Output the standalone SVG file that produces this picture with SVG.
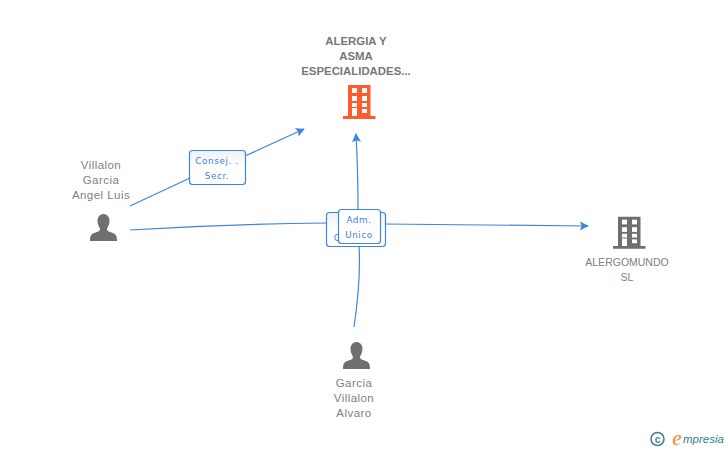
<svg xmlns="http://www.w3.org/2000/svg" width="728" height="450" viewBox="0 0 728 450">
<style>
text{font-family:"Liberation Sans",Arial,sans-serif;font-size:11.5px;fill:#808080;text-anchor:middle;letter-spacing:.45px}
.b{font-weight:bold;fill:#777;letter-spacing:0;font-size:11.4px}
.n{font-size:10.5px;letter-spacing:0}
.c{fill:none;stroke:#3d85e0;stroke-width:1.2}
.l{fill:#fff;stroke:#3d85e0;stroke-width:1.2}
.t{font-family:"DejaVu Sans",sans-serif;font-size:8.8px;fill:#3d7fd8;letter-spacing:.6px}
.w{fill:#fff}
</style>
<defs>
<marker id="a" viewBox="0 0 10 10" refX="9" refY="5" markerWidth="9" markerHeight="9" markerUnits="userSpaceOnUse" orient="auto"><path d="M0 0L10 5L0 10L2 5Z" fill="#3d85e0"/></marker>
<linearGradient id="g" x1="0" y1="0" x2="0" y2="1"><stop offset="0" stop-color="#f1f1f1"/><stop offset=".5" stop-color="#fff"/></linearGradient>
<g id="bld"><path d="M-11 -31H11.500V0H16.500V3H-16V0H-11Z"/><g class="w"><rect x="-7" y="-28" width="5" height="5"/><rect x="3" y="-28" width="5" height="5"/><rect x="-7" y="-20" width="5" height="5"/><rect x="3" y="-20" width="5" height="5"/><rect x="-7" y="-13" width="5" height="4"/><rect x="3" y="-13" width="5" height="4"/><rect x="-7" y="-8" width="5" height="8"/><rect x="3" y="-7" width="5" height="4"/></g></g>
<path id="p" d="M0 -14C-4.500 -14 -6 -10 -6 -7C-6 -3 -4 -1 -3.500 1C-3.500 3 -5 3.500 -8 4.500C-12 6 -13.500 7 -13.500 13H13.500C13.500 7 12 6 8 4.500C5 3.500 3.500 3 3.500 1C4 -1 6 -3 6 -7C6 -10 4.500 -14 0 -14Z" fill="#6f6f6f"/>
</defs>
<g id="connectors">
<path class="c" d="M130 206L190 178" />
<path class="c" d="M245 156L304 129" marker-end="url(#a)"/>
<path class="c" d="M130 230Q230 224 328 223"/>
<path class="c" d="M384 224Q480 225 588 226" marker-end="url(#a)"/>
<path class="c" d="M354 327Q361 280 359 246"/>
<path class="c" d="M358 209Q358 170 356 134" marker-end="url(#a)"/>
</g>
<g id="label-consej"><rect class="l" x="189.500" y="150.500" width="56" height="34" rx="3" style="fill:url(#g)"/><text class="t" x="217" y="164">Consej. .</text><text class="t" x="217" y="179">Secr.</text></g>
<g id="label-hidden"><rect class="l" x="326.500" y="212.500" width="59" height="34" rx="3" style="fill:url(#g)"/><text class="t" x="337" y="241">C</text></g>
<g id="label-adm"><rect class="l" x="338.500" y="209.500" width="42" height="34" rx="3"/><text class="t" x="359" y="223">Adm.</text><text class="t" x="359" y="238">Unico</text></g>
<g id="node-alergia"><text class="b" x="356" y="45">ALERGIA Y</text><text class="b" x="356" y="60">ASMA</text><text class="b" x="356" y="75">ESPECIALIDADES...</text><use href="#bld" x="359" y="116" fill="#ff5c2e"/></g>
<g id="node-villalon"><text x="101" y="169">Villalon</text><text x="101" y="184">Garcia</text><text x="101" y="199">Angel Luis</text><use href="#p" x="103.500" y="228"/></g>
<g id="node-alergomundo"><use href="#bld" transform="translate(629 246) scale(1 .94)" fill="#6f6f6f"/><text class="n" x="627" y="266">ALERGOMUNDO</text><text class="n" x="627" y="281">SL</text></g>
<g id="node-garcia"><use href="#p" x="356.500" y="356"/><text x="354" y="387">Garcia</text><text x="354" y="402">Villalon</text><text x="354" y="417">Alvaro</text></g>
<g id="logo"><circle cx="657.500" cy="439" r="6.500" fill="none" stroke="#3f7f8f" stroke-width="1.500"/><text x="657.500" y="442.500" style="font-size:10px;fill:#3f7f8f;font-weight:bold;letter-spacing:0">c</text><text x="677" y="445" style="font-family:'Liberation Serif',serif;font-style:italic;font-size:21px;fill:#f08a24;letter-spacing:0">e</text><text x="683" y="443" style="text-anchor:start;font-style:italic;font-size:11.500px;fill:#2f7f8f;letter-spacing:0">mpresia</text></g>
</svg>
